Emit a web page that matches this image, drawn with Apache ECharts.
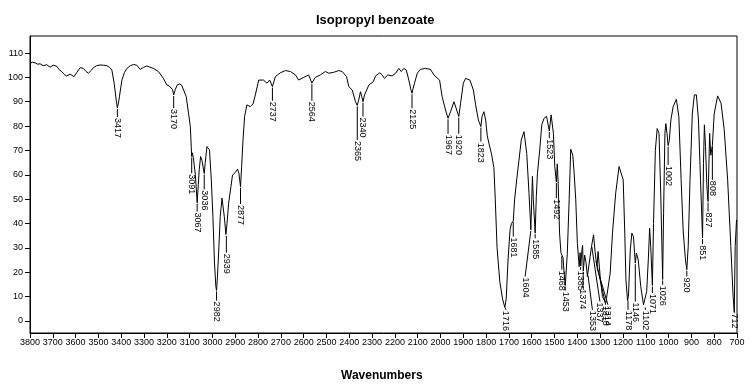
<!DOCTYPE html>
<html><head><meta charset="utf-8">
<script src="https://cdn.jsdelivr.net/npm/echarts@6/dist/echarts.min.js"></script>
<style>html,body{margin:0;padding:0;background:#fff}#c{width:753px;height:386px}</style>
</head><body><div id="c"></div>
<script>
const titleText = 'Isopropyl benzoate';
const xName = 'Wavenumbers';
const yTicks = [0,10,20,30,40,50,60,70,80,90,100,110];
// [wavenumber, transmittance]
const spectrum = [
[3800,105.8],[3790,106.2],[3778,106],[3766,105.4],[3756,105.6],[3742,104.8],[3727,105.2],[3712,104.2],[3698,105],[3683,104.6],
[3672,103.2],[3661,102.4],[3650,101.2],[3639,100.6],[3624,101.3],[3607,100.3],[3595,102],[3580,104],[3566,103.7],[3555,102.5],
[3544,101.7],[3530,103],[3522,104],[3508,104.8],[3493,105.1],[3478,105],[3463,104.8],[3450,104],[3441,103],[3431,97.6],
[3422,90.7],[3417,87.5],[3412,89.5],[3408,92],[3397,98.9],[3386,102],[3375,103.7],[3360,104.8],[3346,105.3],[3332,105],
[3317,103.3],[3302,104.1],[3288,104.7],[3274,104.2],[3259,103.7],[3237,102.4],[3215,99.6],[3200,96.9],[3190,96.5],[3182,96.9],
[3175,95],[3170,92.8],[3163,95],[3155,96.8],[3145,97.3],[3135,96.8],[3127,96.2],[3115,92.1],[3105,85.3],[3097,79.8],
[3093,71.6],[3091,67.5],[3088,69],[3083,66.5],[3075,60],[3067,48.5],[3062,56],[3058,62],[3052,67.5],[3046,66],
[3039,62],[3036,60.5],[3032,64.7],[3024,71.6],[3018,72],[3013,70.2],[3005,57.9],[2998,42.8],[2991,23.7],[2985,14],
[2982,12.5],[2978,18.2],[2971,31.9],[2966,42.8],[2958,50.4],[2954,49.7],[2948,42.8],[2941,35.5],[2939,35.3],[2936,40.1],
[2929,48.3],[2919,55.1],[2912,59.9],[2900,60.9],[2890,62.3],[2884,60.6],[2877,55.1],[2872,63.4],[2866,74.3],[2859,83.9],
[2849,88.7],[2834,88],[2822,89.1],[2812,92.8],[2797,98.9],[2790,99.6],[2776,98.9],[2761,97.6],[2749,98.9],[2737,96.2],
[2724,100.3],[2702,101.9],[2680,102.8],[2658,102.4],[2636,101],[2622,98.9],[2600,100],[2578,101],[2564,97.6],[2549,100],
[2527,101],[2505,102.4],[2490,101.7],[2468,102.1],[2446,102.8],[2431,102.4],[2412,100.3],[2402,96.2],[2387,94.8],[2373,90],
[2365,88.5],[2358,91],[2351,94.1],[2345,92],[2340,90],[2333,92.8],[2314,96.9],[2295,98.2],[2285,100.6],[2266,101.9],
[2256,101],[2246,99.6],[2231,101],[2212,100.6],[2197,101.7],[2183,103.7],[2172,102.4],[2161,103.7],[2150,103],[2139,98.9],
[2130,95],[2125,93.5],[2120,95.5],[2114,97.6],[2102,101.7],[2088,103.3],[2066,103.7],[2044,103.3],[2029,101],[2004,98.9],
[1993,92.1],[1978,86.6],[1967,83.2],[1956,85.9],[1941,90],[1929,86.6],[1920,83.9],[1912,89.4],[1900,97.6],[1890,99.6],
[1871,98.9],[1856,94.8],[1846,88.7],[1834,82.5],[1823,79.8],[1818,83.9],[1810,85.9],[1802,82.5],[1795,76],[1788,73],
[1777,68.8],[1766,63],[1760,50],[1752,30],[1740,16],[1728,9],[1718,5.5],[1712,9],[1704,25],[1695,37.4],
[1689,40],[1681,41],[1675,50],[1666,57.9],[1656,66],[1646,74.3],[1634,77.7],[1622,68.8],[1612,52.4],[1604,37.4],
[1597,59.3],[1593,49.7],[1585,36],[1580,51],[1575,60.6],[1565,70.2],[1556,80.5],[1546,83.2],[1535,84],[1523,78],
[1515,84.6],[1505,77],[1499,63.4],[1492,57],[1488,64.5],[1484,56.5],[1478,36],[1472,28],[1468,27],[1463,26],
[1458,19.6],[1453,14.5],[1444,27.8],[1436,49.7],[1429,70.5],[1420,68],[1414,60.6],[1407,49.7],[1400,31.9],[1392,22.3],
[1388,28],[1385,22.5],[1380,29],[1377,31],[1374,20.5],[1368,27],[1362,24],[1356,18.2],[1353,19],[1344,26.4],
[1338,30.5],[1329,35.3],[1323,29.1],[1318,25],[1314,22.3],[1309,28.5],[1300,18.2],[1290,10],[1283,8.6],[1275,7.5],
[1268,7.9],[1256,19.6],[1246,36],[1232,52.4],[1217,63.4],[1209,64],[1199,57.9],[1192,36],[1187,16.8],[1180,8.4],
[1176,10],[1168,29.1],[1161,36],[1154,34.6],[1146,23.7],[1141,27.8],[1133,25],[1122,14.1],[1110,6.6],[1102,5.9],
[1096,12],[1089,25],[1083,38],[1078,30],[1071,14.5],[1066,40],[1058,70],[1050,79],[1042,77],[1034,51],
[1026,17],[1022,44],[1016,77],[1012,81],[1007,77],[1002,72],[997,74],[990,82.5],[980,88],[966,91],
[955,84],[945,58],[936,37],[926,25],[920,21],[914,30.5],[906,58],[896,85],[887,92.8],[878,92.8],
[869,82.5],[860,58],[851,34],[847,64.7],[843,80.5],[838,71.6],[832,55],[827,49],[823,64.7],[820,77],
[815,68],[808,72],[800,85],[785,92.4],[770,89.4],[756,78.4],[741,57.9],[727,30.5],[717,10],[712,3.5],
[708,30.5],[702,41.5]
];
// [peak wavenumber, curve value, label wavenumber, label value]
const peakLabels = [
[3417,87.5,3417,83.7],[3170,92.8,3170,87.4],[3091,67.5,3091,60.6],[3067,48.5,3067,44.9],[3036,60.5,3036,54],
[2982,12.5,2982,8.3],[2939,35.3,2939,28],[2877,55.1,2877,48],[2737,96.2,2737,90.4],[2564,97.6,2564,90.4],
[2365,88.5,2365,74.3],[2340,90,2340,83.9],[2125,93.5,2125,87.3],[1967,83.2,1967,76.8],[1920,83.9,1920,76.8],
[1823,79.8,1823,73.6],[1716,5.8,1713,4.5],[1681,41,1681,34.6],[1604,37.4,1629,18.2],[1585,36,1585,33.9],
[1523,78,1523,75],[1492,57,1492,50.4],[1468,27,1468,21],[1453,14.5,1453,12.4],[1385,22.5,1387,21],
[1374,20.5,1376,13.4],[1353,19,1334,4.5],[1337,31,1301,7.9],[1318,25,1276,6.6],[1314,22.3,1266,6.6],
[1178,8.8,1178,4.5],[1146,23.7,1146,7.9],[1102,5.9,1102,4.5],[1071,14.5,1071,11.4],[1026,17,1026,14.8],
[1002,72,1002,64],[920,21,920,18.2],[851,34,851,31.5],[827,49,827,44.9],[808,72,808,57.9],[712,3.5,710,3.4]
];

const chart = echarts.init(document.getElementById('c'), null, {renderer:'canvas'});
const FONT = '"Liberation Sans", Arial, sans-serif';
chart.setOption({
  animation: false,
  backgroundColor: '#fff',
  title: [
    {text: titleText, left: 311, top: 9,
     textStyle: {fontFamily: FONT, fontSize: 13, fontWeight: 'bold', color: '#000'}},
    {text: xName, left: 336, top: 365,
     textStyle: {fontFamily: FONT, fontSize: 12, fontWeight: 'bold', color: '#000'}}
  ],
  grid: {left: 30, right: 16, top: 36, bottom: 53, show: true, borderColor: '#000', borderWidth: 1},
  xAxis: {type: 'value', inverse: true, min: 700, max: 3800, interval: 100,
    axisLine: {show: true, onZero: false, lineStyle: {color: '#000', width: 1}},
    axisTick: {show: true, inside: false, length: 5, lineStyle: {color: '#000'}},
    axisLabel: {color: '#000', fontFamily: FONT, fontSize: 9, margin: 5,
      showMinLabel: true, showMaxLabel: true, hideOverlap: false,
      formatter: function (v) { return String(v); }},
    splitLine: {show: false}},
  yAxis: {type: 'value', min: -5, max: 117,
    axisLine: {show: true, onZero: false, lineStyle: {color: '#000', width: 1}},
    axisTick: {show: true, inside: false, length: 5, lineStyle: {color: '#000'}, customValues: yTicks},
    axisLabel: {color: '#000', fontFamily: FONT, fontSize: 9, margin: 7, customValues: yTicks},
    splitLine: {show: false}},
  series: [
    {type: 'line', data: spectrum, showSymbol: false, symbol: 'none', smooth: false,
     lineStyle: {color: '#000', width: 1}, clip: true, z: 3},
    {type: 'custom', data: peakLabels, z: 4, clip: false,
     renderItem: function (params, api) {
       const p0 = api.coord([api.value(0), api.value(1)]);
       const p1 = api.coord([api.value(2), api.value(3)]);
       return {type: 'group', children: [
         {type: 'line', shape: {x1: p0[0], y1: p0[1] + 1, x2: p1[0], y2: p1[1]},
          style: {stroke: '#000', lineWidth: 1}},
         {type: 'text', x: p1[0], y: p1[1] + 1, rotation: -Math.PI / 2,
          style: {text: String(api.value(0)), fill: '#000', font: '9px ' + FONT,
                  align: 'left', verticalAlign: 'middle'}}
       ]};
     }}
  ]
});
</script></body></html>
